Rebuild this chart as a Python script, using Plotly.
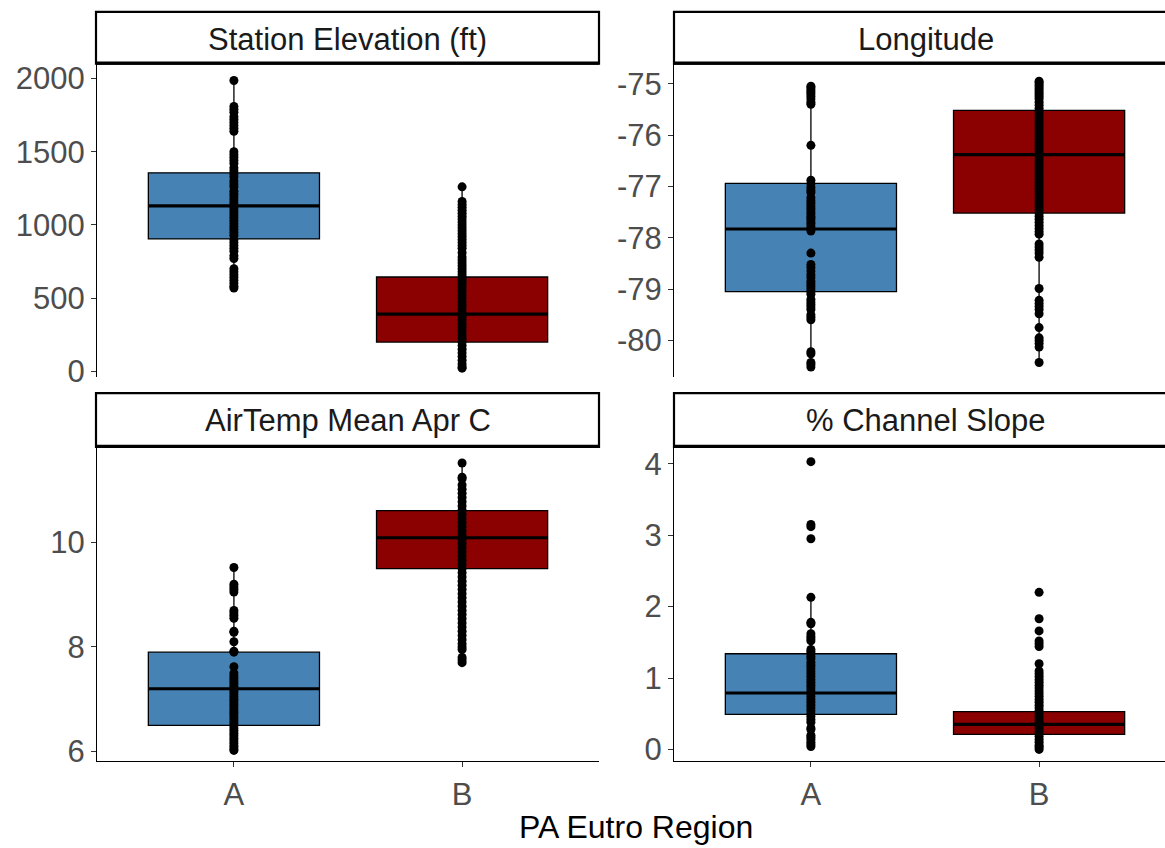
import plotly.graph_objects as go
from plotly.subplots import make_subplots

W, H = 1165, 848
H_CALC = 838  # effective rendered height used for pixel -> paper conversion

regions = ["A", "B"]
region_pos = [1, 2]
region_colors = ["#4682B4", "#8B0000"]
panel_titles = ["Station Elevation (ft)", "Longitude", "AirTemp Mean Apr C", "% Channel Slope"]
x_title = "PA Eutro Region"

elev_A = [1987, 1810, 1790, 1770, 1740, 1720, 1700, 1680, 1660, 1640, 1500, 1480, 1460,
          1440, 1420, 1390, 1370, 1350, 1330, 1300, 1280, 1260, 1230, 1210, 1190, 1170,
          1150, 1130, 1110, 1090, 1070, 1050, 1030, 1010, 990, 970, 950, 930, 900, 880,
          860, 840, 820, 790, 770, 700, 680, 660, 640, 620, 600, 580, 568]
elev_B = [1260, 1160, 1140, 1120, 1100, 1080, 1060, 1040, 1020, 1000, 980, 960, 940, 920,
          900, 880, 860, 840, 810, 780, 760, 740, 720, 700, 680, 660, 640, 620, 600, 575,
          550, 525, 500, 475, 450, 425, 400, 375, 350, 325, 300, 275, 250, 225, 200, 175,
          150, 125, 100, 75, 50, 30, 21]
lon_A = [-75.05, -75.08, -75.12, -75.16, -75.20, -75.25, -75.30, -75.36, -75.40, -76.20,
         -76.88, -76.95, -77.02, -77.08, -77.12, -77.22, -77.28, -77.33, -77.38, -77.43,
         -77.48, -77.53, -77.58, -77.62, -77.67, -77.72, -77.77, -77.82, -77.87, -78.30,
         -78.52, -78.58, -78.65, -78.72, -78.78, -78.85, -78.90, -78.95, -79.00, -79.05,
         -79.10, -79.20, -79.25, -79.30, -79.35, -79.40, -79.50, -79.55, -79.60, -80.22,
         -80.26, -80.43, -80.47, -80.52]
lon_B = [-74.95, -74.98, -75.02, -75.06, -75.10, -75.14, -75.18, -75.22, -75.26, -75.30,
         -75.36, -75.42, -75.48, -75.54, -75.60, -75.66, -75.72, -75.78, -75.84, -75.90,
         -75.96, -76.02, -76.08, -76.14, -76.20, -76.26, -76.32, -76.38, -76.44, -76.50,
         -76.56, -76.62, -76.68, -76.74, -76.80, -76.86, -76.92, -76.98, -77.04, -77.10,
         -77.16, -77.22, -77.28, -77.34, -77.40, -77.46, -77.52, -77.58, -77.64, -77.70,
         -77.76, -77.82, -77.88, -77.93, -78.12, -78.18, -78.24, -78.30, -78.38, -78.99,
         -79.22, -79.28, -79.34, -79.40, -79.48, -79.75, -79.95, -80.00, -80.06, -80.13,
         -80.43]
temp_A = [9.52, 9.20, 9.15, 9.10, 9.05, 8.70, 8.65, 8.60, 8.55, 8.30, 8.28, 8.10, 7.92,
          7.90, 7.62, 7.50, 7.45, 7.40, 7.35, 7.30, 7.25, 7.20, 7.15, 7.10, 7.05, 7.00,
          6.95, 6.90, 6.85, 6.80, 6.75, 6.70, 6.65, 6.60, 6.55, 6.50, 6.45, 6.40, 6.35,
          6.30, 6.25, 6.20, 6.15, 6.10, 6.05, 6.02]
temp_B = [11.52, 11.25, 11.22, 11.10, 11.02, 10.94, 10.86, 10.78, 10.70, 10.62, 10.54,
          10.46, 10.38, 10.30, 10.22, 10.14, 10.06, 9.98, 9.90, 9.82, 9.74, 9.66, 9.58,
          9.50, 9.42, 9.34, 9.26, 9.18, 9.10, 9.02, 8.94, 8.86, 8.78, 8.70, 8.62, 8.54,
          8.46, 8.38, 8.30, 8.22, 8.14, 8.06, 8.00, 7.95, 7.80, 7.75, 7.70]
slope_A = [4.03, 3.15, 3.12, 2.95, 2.13, 1.78, 1.76, 1.62, 1.58, 1.55, 1.52, 1.40, 1.37,
           1.34, 1.30, 1.27, 1.22, 1.18, 1.14, 1.10, 1.06, 1.02, 0.98, 0.94, 0.90, 0.86,
           0.82, 0.78, 0.74, 0.70, 0.66, 0.62, 0.58, 0.54, 0.50, 0.46, 0.42, 0.38, 0.30,
           0.28, 0.20, 0.17, 0.14, 0.10, 0.07, 0.04]
slope_B = [2.20, 1.83, 1.66, 1.52, 1.48, 1.44, 1.20, 1.10, 1.06, 1.02, 0.98, 0.94, 0.90,
           0.86, 0.82, 0.78, 0.74, 0.70, 0.66, 0.62, 0.58, 0.54, 0.50, 0.46, 0.42, 0.38,
           0.34, 0.30, 0.26, 0.22, 0.18, 0.14, 0.10, 0.06, 0.03, 0.00]

# ---- box statistics ----
elev_q1, elev_med, elev_q3 = [904, 199], [1130, 390], [1356, 644]
lon_q1, lon_med, lon_q3 = [-79.05, -77.52], [-77.83, -76.38], [-76.94, -75.52]
temp_q1, temp_med, temp_q3 = [6.50, 9.50], [7.20, 10.09], [7.90, 10.61]
slope_q1, slope_med, slope_q3 = [0.49, 0.21], [0.79, 0.35], [1.34, 0.53]

# ---- tick values ----
elev_ticks = [0, 500, 1000, 1500, 2000]
lon_ticks = [-80, -79, -78, -77, -76, -75]
temp_ticks = [6, 8, 10]
slope_ticks = [0, 1, 2, 3, 4]

panels = [
    (elev_A, elev_B, elev_q1, elev_med, elev_q3, elev_ticks, [-41, 2102]),
    (lon_A, lon_B, lon_q1, lon_med, lon_q3, lon_ticks, [-80.717, -74.61]),
    (temp_A, temp_B, temp_q1, temp_med, temp_q3, temp_ticks, [5.81, 11.83]),
    (slope_A, slope_B, slope_q1, slope_med, slope_q3, slope_ticks, [-0.167, 4.237]),
]

BOXW = 0.75

def fences(vals, q1, q3):
    iqr = q3 - q1
    lo = min(v for v in vals if v >= q1 - 1.5 * iqr)
    hi = max(v for v in vals if v <= q3 + 1.5 * iqr)
    return lo, hi

fig = make_subplots(rows=2, cols=2)

FONT = "Liberation Sans, Arial, sans-serif"

for i, (a, b, q1, med, q3, ticks, yr) in enumerate(panels):
    r, c = i // 2 + 1, i % 2 + 1
    for j, vals in enumerate([a, b]):
        lo, hi = fences(vals, q1[j], q3[j])
        fig.add_trace(go.Box(
            x=[region_pos[j]], q1=[q1[j]], median=[med[j]], q3=[q3[j]],
            lowerfence=[lo], upperfence=[hi], orientation="v",
            width=BOXW, whiskerwidth=0, boxpoints=False,
            fillcolor=region_colors[j], line=dict(color="black", width=1.3),
            hoverinfo="skip", showlegend=False), row=r, col=c)
    for j in range(2):
        fig.add_trace(go.Scatter(
            x=[region_pos[j] - BOXW / 2, region_pos[j] + BOXW / 2], y=[med[j], med[j]],
            mode="lines", line=dict(color="black", width=3.2),
            hoverinfo="skip", showlegend=False), row=r, col=c)
    for j, vals in enumerate([a, b]):
        fig.add_trace(go.Scatter(
            x=[region_pos[j]] * len(vals), y=vals, mode="markers",
            marker=dict(color="black", size=9, line=dict(width=0)),
            hoverinfo="skip", showlegend=False), row=r, col=c)

# geometry in pixels
left_x = (97, 599)
right_x = (674, 1165)
top_y = (62, 377)
bot_y = (447, 763)
unit_px = 502 / 2.2

def xdom(p):
    return [p[0] / W, p[1] / W]

def py(y):
    return 1 - y / H_CALC

def ydom(p):
    return [py(p[1]), py(p[0])]

axis_common = dict(showgrid=False, zeroline=False, linecolor="black", linewidth=1.2,
                   ticks="outside", ticklen=5, tickwidth=1.2, tickcolor="#333333",
                   tickfont=dict(family=FONT, size=31, color="#4D4D4D"))

for i in range(4):
    r, c = i // 2 + 1, i % 2 + 1
    xd = left_x if c == 1 else right_x
    yd = top_y if r == 1 else bot_y
    xr_hi = 0.4 + (xd[1] - xd[0]) / unit_px
    xaxis_kw = dict(axis_common, domain=xdom(xd), range=[0.4, xr_hi],
                    tickvals=region_pos, ticktext=regions)
    if r == 1:
        xaxis_kw.update(showline=False, ticks="", showticklabels=False)
    else:
        xaxis_kw.update(showline=True)
    fig.update_xaxes(row=r, col=c, **xaxis_kw)
    yt = panels[i][5]
    fig.update_yaxes(row=r, col=c, **axis_common, domain=ydom(yd), range=panels[i][6],
                     tickvals=yt, ticktext=[str(v) for v in yt], showline=True)

# strips
strip_rows = [(10, 62), (393, 447)]
strip_cols = [(96, 599), (674, 1200)]
shapes = []
annotations = []
for i, title in enumerate(panel_titles):
    r, c = i // 2, i % 2
    sy = strip_rows[r]
    sx = strip_cols[c]
    shapes.append(dict(type="rect", xref="paper", yref="paper",
                       x0=sx[0] / W, x1=sx[1] / W, y0=py(sy[1]), y1=py(sy[0]),
                       line=dict(color="black", width=2.2), fillcolor="white", layer="above"))
    shapes.append(dict(type="line", xref="paper", yref="paper",
                       x0=sx[0] / W, x1=sx[1] / W, y0=py(sy[1] - 0.5), y1=py(sy[1] - 0.5),
                       line=dict(color="black", width=3.2), layer="above"))
    cx = (sx[0] + (sx[0] + 503)) / 2
    annotations.append(dict(text=title, xref="paper", yref="paper", x=cx / W,
                            y=py(sy[0] + 28), xanchor="center", yanchor="middle",
                            showarrow=False, font=dict(family=FONT, size=31, color="#1A1A1A")))

annotations.append(dict(text=x_title, xref="paper", yref="paper", x=636 / W, y=py(829),
                        xanchor="center", yanchor="middle", showarrow=False,
                        font=dict(family=FONT, size=32, color="black")))

fig.update_layout(width=W, height=H, margin=dict(l=0, r=0, t=0, b=0),
                  paper_bgcolor="white", plot_bgcolor="white",
                  shapes=shapes, annotations=annotations, showlegend=False)

fig.write_html("out.html")
